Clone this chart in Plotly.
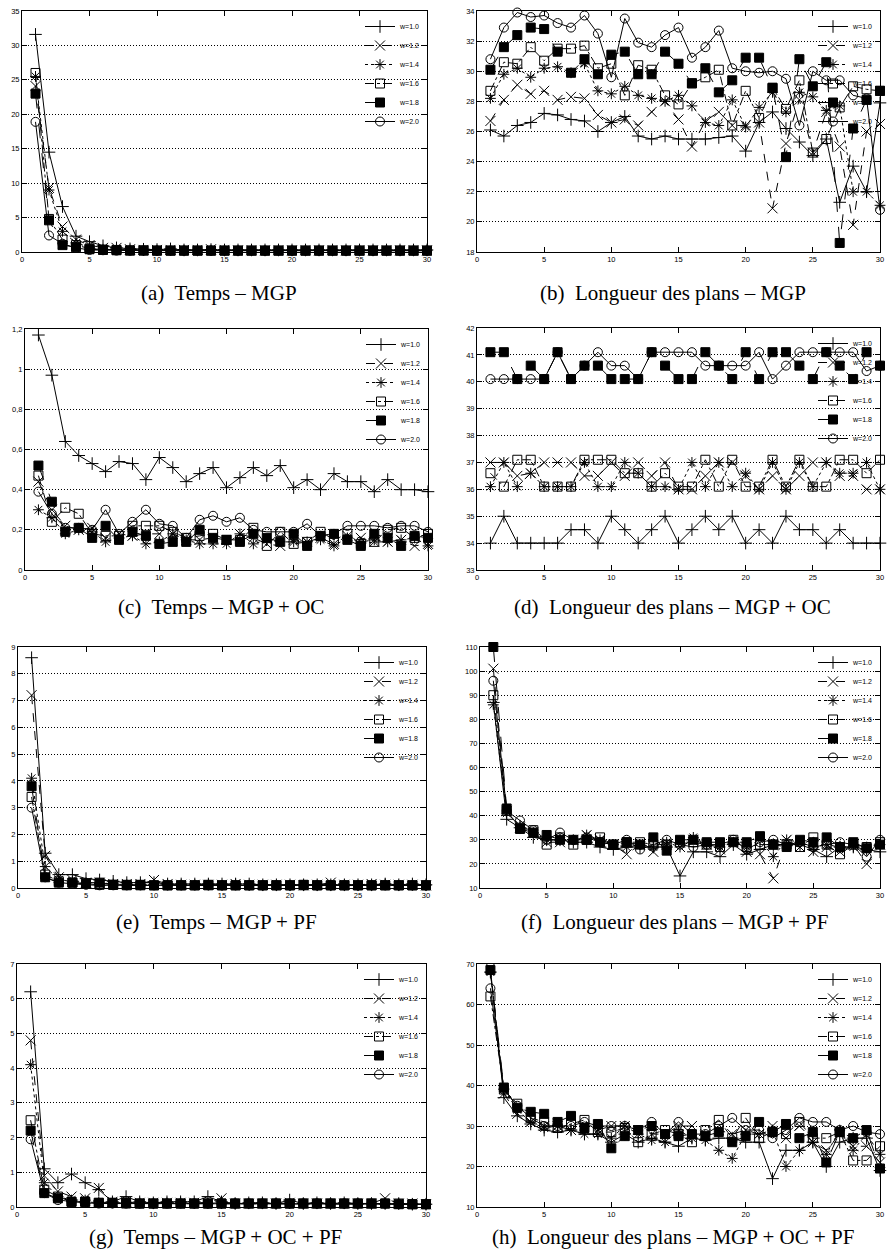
import plotly.graph_objects as go

X = list(range(1, 31))
W_LABELS = ["w=1.0", "w=1.2", "w=1.4", "w=1.6", "w=1.8", "w=2.0"]

# (a) Temps - MGP
a_w10 = [31.6, 14.5, 6.6, 2.3, 1.5, 0.9, 0.6, 0.45, 0.4, 0.35, 0.45, 0.3, 0.3, 0.35, 0.3, 0.3, 0.3, 0.3, 0.3, 0.3, 0.3, 0.3, 0.3, 0.3, 0.3, 0.3, 0.3, 0.3, 0.3, 0.3]
a_w12 = [24.1, 9.3, 3.7, 1.8, 1.0, 0.6, 0.6, 0.4, 0.3, 0.3, 0.3, 0.3, 0.3, 0.4, 0.3, 0.25, 0.25, 0.25, 0.25, 0.25, 0.25, 0.25, 0.25, 0.25, 0.25, 0.25, 0.25, 0.25, 0.25, 0.25]
a_w14 = [25.5, 9.0, 3.0, 1.3, 0.7, 0.4, 0.35, 0.3, 0.25, 0.25, 0.25, 0.25, 0.25, 0.25, 0.25, 0.2, 0.2, 0.2, 0.2, 0.2, 0.2, 0.2, 0.2, 0.2, 0.2, 0.2, 0.2, 0.2, 0.2, 0.2]
a_w16 = [26.0, 4.8, 1.8, 1.0, 0.5, 0.35, 0.3, 0.25, 0.25, 0.2, 0.2, 0.2, 0.2, 0.2, 0.2, 0.2, 0.2, 0.2, 0.2, 0.2, 0.2, 0.2, 0.2, 0.2, 0.2, 0.2, 0.2, 0.2, 0.2, 0.2]
a_w18 = [23.0, 4.6, 1.0, 0.7, 0.4, 0.3, 0.25, 0.2, 0.2, 0.2, 0.2, 0.2, 0.2, 0.2, 0.2, 0.2, 0.2, 0.2, 0.2, 0.2, 0.2, 0.2, 0.2, 0.2, 0.2, 0.2, 0.2, 0.2, 0.2, 0.2]
a_w20 = [18.9, 2.4, 1.2, 0.6, 0.3, 0.25, 0.2, 0.2, 0.2, 0.2, 0.2, 0.2, 0.2, 0.2, 0.2, 0.2, 0.2, 0.2, 0.2, 0.2, 0.2, 0.2, 0.2, 0.2, 0.2, 0.2, 0.2, 0.2, 0.2, 0.2]

# (b) Longueur des plans - MGP
b_w10 = [26.1, 25.7, 26.4, 26.6, 27.2, 27.1, 26.8, 26.7, 26.0, 26.6, 27.0, 25.7, 25.5, 25.7, 25.5, 25.5, 25.5, 25.6, 25.7, 24.7, 26.6, 27.3, 26.2, 25.3, 24.4, 25.5, 21.3, 23.7, 22.0, 27.9]
b_w12 = [26.7, 28.1, 29.1, 28.5, 28.7, 28.1, 28.3, 28.2, 27.1, 26.6, 26.8, 26.4, 27.3, 28.0, 26.8, 25.0, 26.7, 27.3, 26.4, 26.4, 26.6, 20.9, 25.2, 28.1, 24.6, 27.3, 25.0, 19.8, 26.0, 26.5]
b_w14 = [28.2, 29.8, 30.2, 29.6, 30.2, 30.3, 29.9, 30.5, 28.7, 28.5, 29.0, 28.4, 28.2, 28.0, 28.4, 27.7, 26.6, 26.4, 28.1, 26.3, 27.6, 28.6, 27.3, 28.6, 28.3, 27.4, 27.7, 22.0, 22.0, 21.1]
b_w16 = [28.7, 30.6, 30.5, 31.6, 30.7, 31.5, 31.5, 31.7, 30.2, 30.5, 28.4, 30.4, 30.1, 28.4, 27.8, 29.2, 29.6, 30.1, 26.4, 28.7, 26.9, 28.9, 27.5, 29.4, 24.6, 25.5, 27.6, 29.0, 28.8, 28.7]
b_w18 = [30.1, 31.6, 32.4, 32.9, 32.8, 31.3, 29.9, 30.8, 29.8, 31.1, 31.3, 29.8, 29.8, 31.3, 30.5, 29.2, 30.2, 28.6, 29.4, 30.9, 30.9, 28.9, 24.3, 30.8, 29.0, 30.6, 18.6, 26.2, 28.1, 28.7]
b_w20 = [30.8, 32.9, 33.9, 33.6, 33.7, 33.2, 32.9, 33.7, 32.5, 29.6, 33.5, 31.9, 31.6, 32.4, 32.9, 30.9, 31.6, 32.7, 30.2, 30.0, 29.9, 30.0, 29.5, 26.4, 30.0, 29.4, 29.4, 28.4, 28.2, 20.8]

# (c) Temps - MGP + OC
c_w10 = [1.17, 0.97, 0.64, 0.57, 0.53, 0.49, 0.54, 0.53, 0.45, 0.56, 0.51, 0.44, 0.48, 0.51, 0.41, 0.46, 0.51, 0.47, 0.52, 0.41, 0.45, 0.40, 0.48, 0.44, 0.44, 0.39, 0.45, 0.40, 0.40, 0.39]
c_w12 = [0.44, 0.30, 0.22, 0.20, 0.21, 0.16, 0.18, 0.17, 0.18, 0.18, 0.18, 0.15, 0.15, 0.16, 0.15, 0.18, 0.16, 0.13, 0.12, 0.15, 0.14, 0.16, 0.13, 0.17, 0.16, 0.14, 0.14, 0.15, 0.12, 0.13]
c_w14 = [0.30, 0.26, 0.18, 0.20, 0.19, 0.14, 0.16, 0.17, 0.13, 0.14, 0.18, 0.15, 0.13, 0.13, 0.13, 0.18, 0.13, 0.15, 0.14, 0.14, 0.14, 0.15, 0.12, 0.16, 0.14, 0.15, 0.14, 0.15, 0.16, 0.12]
c_w16 = [0.47, 0.24, 0.31, 0.28, 0.18, 0.17, 0.17, 0.22, 0.22, 0.22, 0.19, 0.16, 0.17, 0.18, 0.15, 0.15, 0.21, 0.12, 0.19, 0.13, 0.14, 0.19, 0.15, 0.18, 0.13, 0.14, 0.20, 0.21, 0.16, 0.18]
c_w18 = [0.52, 0.34, 0.19, 0.21, 0.16, 0.22, 0.15, 0.19, 0.17, 0.13, 0.14, 0.14, 0.20, 0.16, 0.15, 0.14, 0.18, 0.16, 0.14, 0.18, 0.12, 0.17, 0.18, 0.15, 0.12, 0.18, 0.16, 0.12, 0.17, 0.16]
c_w20 = [0.39, 0.28, 0.21, 0.21, 0.20, 0.30, 0.18, 0.24, 0.30, 0.23, 0.22, 0.16, 0.25, 0.27, 0.24, 0.26, 0.20, 0.19, 0.19, 0.19, 0.23, 0.17, 0.18, 0.22, 0.22, 0.22, 0.21, 0.22, 0.22, 0.19]

# (d) Longueur des plans - MGP + OC
d_w10 = [34.0, 35.0, 34.0, 34.0, 34.0, 34.0, 34.5, 34.5, 34.0, 35.0, 34.5, 34.0, 34.5, 35.0, 34.0, 34.5, 35.0, 34.5, 35.0, 34.0, 34.5, 34.0, 35.0, 34.5, 34.5, 34.0, 34.5, 34.0, 34.0, 34.0]
d_w12 = [37.0, 37.0, 36.5, 36.6, 37.0, 37.0, 37.0, 36.5, 36.5, 37.0, 36.5, 37.0, 36.5, 37.0, 36.0, 36.0, 36.5, 37.0, 37.0, 36.5, 36.0, 36.5, 36.0, 36.5, 37.0, 37.0, 36.5, 36.5, 36.0, 36.0]
d_w14 = [36.1, 37.0, 36.1, 36.6, 36.1, 36.1, 36.1, 37.0, 36.1, 36.1, 37.0, 36.6, 36.1, 36.1, 36.0, 37.0, 36.1, 37.0, 36.1, 36.6, 36.0, 37.0, 36.0, 37.0, 36.1, 37.0, 36.6, 36.6, 37.0, 36.0]
d_w16 = [36.6, 36.1, 37.1, 37.1, 36.1, 36.1, 36.1, 37.1, 37.1, 37.1, 36.6, 36.6, 36.1, 36.6, 36.1, 36.1, 37.1, 36.1, 37.1, 36.1, 36.1, 37.1, 36.1, 37.1, 36.1, 36.1, 37.1, 37.1, 36.6, 37.1]
d_w18 = [41.1, 41.1, 40.1, 40.6, 40.1, 41.1, 40.1, 40.6, 40.6, 40.1, 40.1, 40.1, 41.1, 40.6, 40.1, 40.1, 41.1, 40.6, 40.1, 41.1, 40.1, 41.1, 41.1, 40.6, 40.1, 41.1, 40.6, 40.1, 41.1, 40.6]
d_w20 = [40.1, 40.1, 40.1, 40.1, 40.1, 41.1, 40.1, 40.6, 41.1, 40.6, 40.6, 40.1, 41.1, 41.1, 41.1, 41.1, 40.6, 40.6, 40.6, 40.6, 41.1, 40.1, 40.6, 41.1, 41.1, 41.1, 41.1, 41.1, 40.4, 40.6]

# (e) Temps - MGP + PF
e_w10 = [8.6, 1.3, 0.5, 0.5, 0.35, 0.3, 0.25, 0.2, 0.2, 0.2, 0.15, 0.15, 0.15, 0.15, 0.15, 0.15, 0.15, 0.12, 0.12, 0.12, 0.12, 0.12, 0.12, 0.12, 0.12, 0.12, 0.15, 0.12, 0.15, 0.12]
e_w12 = [7.2, 1.2, 0.4, 0.3, 0.2, 0.2, 0.15, 0.15, 0.15, 0.3, 0.15, 0.12, 0.12, 0.12, 0.12, 0.15, 0.12, 0.12, 0.12, 0.12, 0.1, 0.12, 0.2, 0.12, 0.12, 0.15, 0.12, 0.12, 0.12, 0.1]
e_w14 = [4.1, 0.8, 0.3, 0.25, 0.2, 0.15, 0.15, 0.12, 0.12, 0.12, 0.12, 0.12, 0.12, 0.12, 0.1, 0.15, 0.1, 0.1, 0.1, 0.1, 0.1, 0.1, 0.1, 0.12, 0.1, 0.1, 0.15, 0.1, 0.1, 0.1]
e_w16 = [3.4, 0.5, 0.25, 0.2, 0.15, 0.12, 0.12, 0.1, 0.1, 0.1, 0.1, 0.1, 0.1, 0.1, 0.1, 0.1, 0.1, 0.1, 0.1, 0.1, 0.1, 0.1, 0.1, 0.1, 0.1, 0.1, 0.1, 0.1, 0.1, 0.1]
e_w18 = [3.8, 0.4, 0.2, 0.2, 0.15, 0.2, 0.12, 0.12, 0.12, 0.1, 0.1, 0.1, 0.1, 0.12, 0.1, 0.1, 0.1, 0.1, 0.1, 0.1, 0.12, 0.1, 0.1, 0.1, 0.1, 0.1, 0.1, 0.1, 0.1, 0.1]
e_w20 = [3.0, 0.4, 0.2, 0.15, 0.12, 0.1, 0.1, 0.1, 0.1, 0.1, 0.1, 0.1, 0.1, 0.1, 0.1, 0.1, 0.1, 0.1, 0.1, 0.1, 0.1, 0.1, 0.1, 0.1, 0.1, 0.1, 0.1, 0.1, 0.1, 0.1]

# (f) Longueur des plans - MGP + PF
f_w10 = [87, 38.5, 35, 31, 30, 30, 29, 29, 27, 26, 27, 27, 27, 27, 15, 25, 25, 23, 28, 24, 26, 28, 28, 28, 26, 23, 27, 27, 26, 25]
f_w12 = [101, 42, 35, 33, 29, 29, 30, 32, 30, 28, 24, 28, 25, 28, 27, 30, 28, 26, 29, 25, 24, 14, 30, 27, 25, 27, 25, 28, 20, 28]
f_w14 = [86, 41, 36, 33, 30, 30, 30, 32, 30, 28, 27, 28, 27, 29, 27, 31, 28, 27, 29, 27, 30, 23, 30, 29, 27, 28, 27, 27, 27, 28]
f_w16 = [90, 42, 35, 34, 28, 31, 28, 30, 31, 28, 29, 29, 28, 28, 29, 29, 28, 27, 30, 27, 28, 28, 28, 27, 31, 28, 24, 28, 27, 29]
f_w18 = [110, 43, 34.5, 33, 32, 30, 30, 30, 29, 28, 29, 28, 31, 25.5, 30, 30, 29, 29, 29, 29, 31.5, 28, 27, 30, 29, 31, 27, 29, 26.5, 28]
f_w20 = [96, 42, 38, 34, 30, 33, 30, 31, 29, 28, 30, 26, 28, 30, 28, 27, 28, 28, 30, 26, 29, 30, 28, 29, 27, 28, 29, 28, 23, 30]

# (g) Temps - MGP + OC + PF
g_w10 = [6.2, 1.1, 0.7, 0.95, 0.7, 0.5, 0.15, 0.3, 0.15, 0.12, 0.15, 0.15, 0.15, 0.3, 0.15, 0.1, 0.12, 0.12, 0.1, 0.2, 0.1, 0.12, 0.1, 0.12, 0.1, 0.1, 0.1, 0.1, 0.08, 0.08]
g_w12 = [4.8, 0.9, 0.45, 0.3, 0.25, 0.55, 0.15, 0.15, 0.12, 0.12, 0.12, 0.12, 0.12, 0.12, 0.25, 0.1, 0.1, 0.1, 0.1, 0.12, 0.1, 0.1, 0.1, 0.1, 0.1, 0.1, 0.25, 0.1, 0.1, 0.08]
g_w14 = [4.1, 0.7, 0.3, 0.2, 0.2, 0.15, 0.12, 0.12, 0.12, 0.1, 0.12, 0.12, 0.1, 0.1, 0.1, 0.1, 0.1, 0.1, 0.1, 0.1, 0.1, 0.1, 0.1, 0.1, 0.1, 0.1, 0.1, 0.1, 0.08, 0.08]
g_w16 = [2.5, 0.5, 0.3, 0.15, 0.15, 0.12, 0.12, 0.1, 0.1, 0.1, 0.1, 0.1, 0.1, 0.1, 0.1, 0.1, 0.1, 0.1, 0.1, 0.1, 0.1, 0.1, 0.1, 0.1, 0.1, 0.1, 0.1, 0.1, 0.08, 0.08]
g_w18 = [2.2, 0.4, 0.25, 0.15, 0.15, 0.12, 0.12, 0.12, 0.1, 0.1, 0.1, 0.1, 0.1, 0.1, 0.1, 0.1, 0.1, 0.1, 0.1, 0.1, 0.1, 0.1, 0.1, 0.1, 0.1, 0.1, 0.1, 0.08, 0.08, 0.08]
g_w20 = [1.95, 0.4, 0.2, 0.15, 0.12, 0.1, 0.1, 0.1, 0.1, 0.1, 0.1, 0.1, 0.1, 0.1, 0.1, 0.1, 0.1, 0.1, 0.1, 0.1, 0.1, 0.1, 0.1, 0.1, 0.1, 0.1, 0.1, 0.08, 0.08, 0.08]

# (h) Longueur des plans - MGP + OC + PF
h_w10 = [68, 37, 32.5, 30.5, 29, 28.5, 29, 28, 28, 26, 28, 26, 27, 26, 25, 27, 26.5, 27, 27, 26, 26, 17, 24, 24, 26, 20, 26, 27, 27, 19]
h_w12 = [69, 38, 33, 31, 30, 30, 29, 29, 29, 30, 30, 29, 28, 28, 30, 30, 28, 29, 28, 29, 28, 30, 27, 30, 26, 24, 28, 25, 25, 21]
h_w14 = [68, 39, 34, 31, 29.5, 30, 29, 28, 28, 27, 30, 28, 26.5, 26, 29, 27, 26.5, 24, 22, 28, 28, 29, 20, 24, 26, 23, 29, 24, 28, 23]
h_w16 = [62, 39, 35.5, 32, 31, 29.5, 30.5, 31.5, 28.5, 28.5, 29.5, 26, 28, 29, 28, 26, 29, 31.5, 27, 32, 27, 28.5, 28, 31, 27, 27, 28.5, 21.5, 21.5, 25]
h_w18 = [68.5, 39.5, 34.5, 33.5, 33, 31, 32.5, 29.5, 30.5, 24.5, 27.5, 29, 30, 28, 27.5, 28, 27.5, 28.5, 26, 27.5, 31, 28.5, 30.5, 27, 28.5, 21, 28.5, 27, 29, 19.5]
h_w20 = [64, 39, 35, 32, 30, 30, 30, 31, 30, 30, 30, 29, 31, 28, 31, 28, 28, 30, 32, 29, 29, 27, 29, 32, 31, 31, 29, 30, 28.5, 28]

PANELS = [
    ("(a)  Temps – MGP", [a_w10, a_w12, a_w14, a_w16, a_w18, a_w20], 0, 35, 5),
    ("(b)  Longueur des plans – MGP", [b_w10, b_w12, b_w14, b_w16, b_w18, b_w20], 18, 34, 2),
    ("(c)  Temps – MGP + OC", [c_w10, c_w12, c_w14, c_w16, c_w18, c_w20], 0, 1.2, 0.2),
    ("(d)  Longueur des plans – MGP + OC", [d_w10, d_w12, d_w14, d_w16, d_w18, d_w20], 33, 42, 1),
    ("(e)  Temps – MGP + PF", [e_w10, e_w12, e_w14, e_w16, e_w18, e_w20], 0, 9, 1),
    ("(f)  Longueur des plans – MGP + PF", [f_w10, f_w12, f_w14, f_w16, f_w18, f_w20], 10, 110, 10),
    ("(g)  Temps – MGP + OC + PF", [g_w10, g_w12, g_w14, g_w16, g_w18, g_w20], 0, 7, 1),
    ("(h)  Longueur des plans – MGP + OC + PF", [h_w10, h_w12, h_w14, h_w16, h_w18, h_w20], 10, 70, 10),
]

# page geometry in pixels (889x1260 window, body margin removed below)
W, H = 889, 1260
PLOT_BOX = [
    (22, 427, 11, 252), (477, 880, 11, 252),
    (25, 428, 329, 570), (477, 880, 328, 570),
    (18, 426, 647, 888), (480, 880, 647, 888),
    (17, 426, 964, 1207), (477, 880, 964, 1207),
]
CAPTION_Y = [293, 293, 607, 607, 922, 922, 1237, 1237]

SYMBOLS = ["cross-thin-open", "x-thin-open", "asterisk-open", "square-open", "square", "circle-open"]
DASHES = ["solid", "dash", "dot", "dashdot", "longdash", "solid"]
SIZES = [9, 10, 9, 9, 9, 9]

fig = go.Figure()
tick_font = dict(family="Liberation Sans, Arial, sans-serif", size=7.5, color="black")

for k, (cap, series, y0, y1, dy) in enumerate(PANELS):
    idx = k + 1
    xa = "x" if idx == 1 else f"x{idx}"
    ya = "y" if idx == 1 else f"y{idx}"
    lg = "legend" if idx == 1 else f"legend{idx}"
    for s, vals in enumerate(series):
        fig.add_trace(go.Scatter(
            x=X, y=vals, mode="lines+markers", name=W_LABELS[s],
            xaxis=xa, yaxis=ya, legend=lg, cliponaxis=False,
            line=dict(color="black", width=1, dash=DASHES[s]),
            marker=dict(symbol=SYMBOLS[s], size=SIZES[s], color="black",
                        line=dict(color="black", width=1)),
        ))
    xl, xr, yt, yb = PLOT_BOX[k]
    axkey_x = "xaxis" if idx == 1 else f"xaxis{idx}"
    axkey_y = "yaxis" if idx == 1 else f"yaxis{idx}"
    fig.update_layout({
        axkey_x: dict(domain=[xl / W, xr / W], anchor=ya, range=[0, 30], dtick=5, tick0=0,
                      showgrid=False, zeroline=False, showline=True, linecolor="black",
                      linewidth=1, mirror="allticks", ticks="inside", ticklen=5,
                      tickcolor="black", tickfont=tick_font, automargin=False,
                      ticklabeloverflow="allow"),
        axkey_y: dict(domain=[1 - yb / H, 1 - yt / H], anchor=xa, range=[y0, y1], dtick=dy, tick0=y0,
                      showgrid=True, gridcolor="black", griddash="1px,2px", gridwidth=1,
                      zeroline=False, showline=True, linecolor="black", linewidth=1,
                      mirror="allticks", ticks="inside", ticklen=5, tickcolor="black",
                      tickfont=tick_font, automargin=False, ticklabeloverflow="allow"),
        lg: dict(x=(xr - 2) / W, y=1 - (yt + 1) / H, xanchor="right", yanchor="top",
                 bgcolor="rgba(0,0,0,0)", borderwidth=0, itemwidth=30,
                 font=dict(family="Liberation Sans, Arial, sans-serif", size=7, color="black"),
                 tracegroupgap=0, itemsizing="trace"),
    })
    cx = (xl + xr) / 2 - 6
    fig.add_annotation(x=cx / W, y=1 - CAPTION_Y[k] / H, xref="paper", yref="paper",
                       text=cap, showarrow=False, xanchor="center", yanchor="middle",
                       font=dict(family="Liberation Serif, Times New Roman, serif", size=21, color="black"))

fig.update_layout(
    width=W, height=H, margin=dict(l=0, r=0, t=0, b=0, autoexpand=False),
    plot_bgcolor="white", paper_bgcolor="white",
    separators=", ", showlegend=True,
)

PAGE_FIX = ("document.documentElement.style.overflow='hidden';"
            "document.body.style.margin='0px';"
            "document.body.style.overflow='hidden';")
fig.write_html("out.html", post_script=PAGE_FIX, config={"displayModeBar": False})
